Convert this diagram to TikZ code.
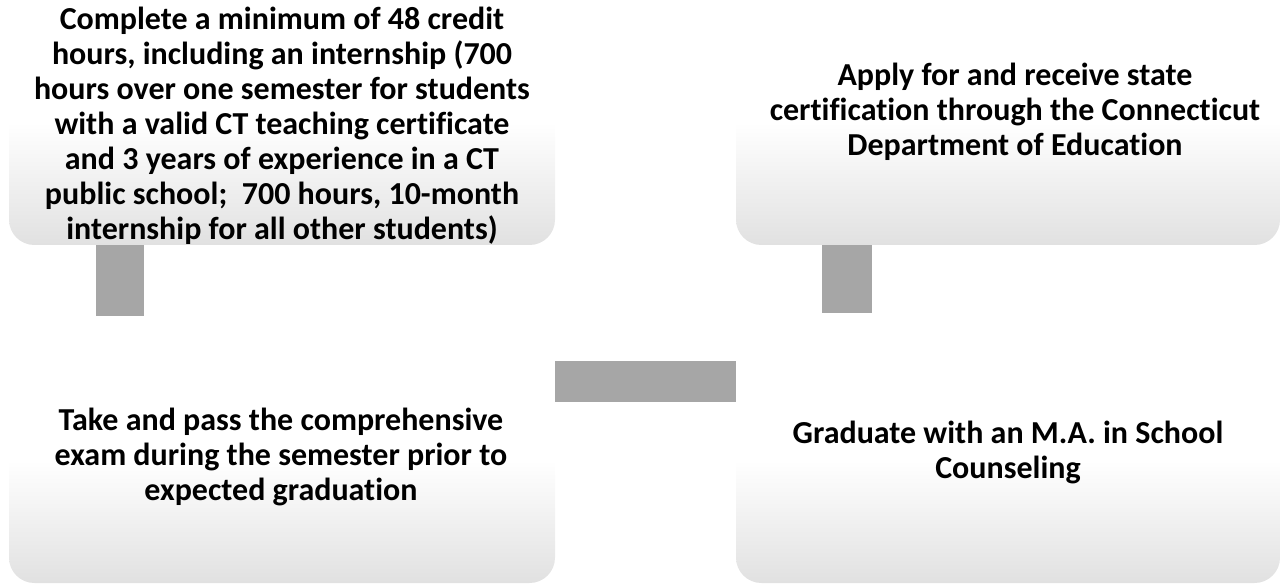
\documentclass[tikz,border=0pt]{standalone}
\usepackage{fontspec}
\setmainfont{Carlito}[Ligatures={NoCommon,NoContextual}, RawFeature={-liga;-clig}]
\usetikzlibrary{calc}
\definecolor{boxgray}{RGB}{225,225,225}
\definecolor{conngray}{RGB}{166,166,166}
\begin{document}
\begin{tikzpicture}[x=0.75pt,y=-0.75pt,
  stepbox/.style={rounded corners=19pt, inner sep=0pt, minimum height=183.75pt,
    top color=white, bottom color=boxgray, middle color=white, draw=none},
  steptext/.style={align=center, inner sep=0pt,
    font=\fontsize{24}{26.25}\selectfont\bfseries},
  conn/.style={fill=conngray}]
\useasboundingbox (0,0) rectangle (1281,584);

% process steps
\node[stepbox, minimum width=409.5pt] (tl) at (282,122.5) {};
\node[stepbox, minimum width=408pt]   (tr) at (1008,122.5) {};
\node[stepbox, minimum width=409.5pt] (bl) at (282,460.5) {};
\node[stepbox, minimum width=408pt]   (br) at (1008,460.5) {};

% step texts
\node[steptext] (tlt) at (282,126) {Complete a minimum of 48 credit\\hours, including an internship (700\\hours over one semester for students\\with a valid CT teaching certificate\\and 3 years of experience in a CT\\public school;\ \ 700 hours, 10-month\\internship for all other students)};
\node[steptext] (trt) at (1015,112) {Apply for and receive state\\certification through the Connecticut\\Department of Education};
\node[steptext] (blt) at (281,457) {Take and pass the comprehensive\\exam during the semester prior to\\expected graduation};
\node[steptext] (brt) at (1008,452) {Graduate with an M.A. in School\\Counseling};

% connectors between steps
\fill[conn] ($(tl.south west)+(87,0)$) rectangle ($(tl.south west)+(135,71)$);
\fill[conn] ($(bl.north east)+(0,23)$) rectangle ($(br.north west)+(0,64)$);
\fill[conn] ($(tr.south west)+(86,0)$) rectangle ($(tr.south west)+(136,68)$);
\end{tikzpicture}
\end{document}
